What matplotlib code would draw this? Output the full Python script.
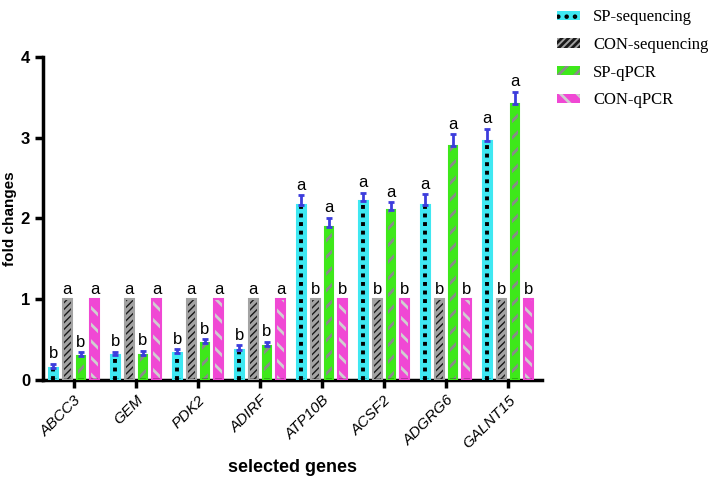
import numpy as np
import matplotlib
matplotlib.use('Agg')
import matplotlib.pyplot as plt
from matplotlib.patches import Patch

genes = ['ABCC3', 'GEM', 'PDK2', 'ADIRF', 'ATP10B', 'ACSF2', 'ADGRG6', 'GALNT15']
series = ['SP-sequencing', 'CON-sequencing', 'SP-qPCR', 'CON-qPCR']

sp_seq = [0.15, 0.31, 0.33, 0.37, 2.16, 2.21, 2.17, 2.96]
sp_seq_err = [0.05, 0.04, 0.05, 0.06, 0.13, 0.11, 0.13, 0.15]
con_seq = [1, 1, 1, 1, 1, 1, 1, 1]
sp_qpcr = [0.29, 0.31, 0.46, 0.42, 1.89, 2.10, 2.90, 3.42]
sp_qpcr_err = [0.05, 0.05, 0.04, 0.05, 0.12, 0.10, 0.14, 0.15]
con_qpcr = [1, 1, 1, 1, 1, 1, 1, 1]

sp_letters = ['b', 'b', 'b', 'b', 'a', 'a', 'a', 'a']
con_letters = ['a', 'a', 'a', 'a', 'b', 'b', 'b', 'b']

plt.rcParams['font.family'] = ['Liberation Sans', 'DejaVu Sans']

fig = plt.figure(figsize=(7.2, 4.82), dpi=100)
ax = fig.add_axes([0.06, 0.212, 0.693, 0.670])

x = np.arange(len(genes))
w = 0.14
offsets = [-0.335, -0.11, 0.11, 0.33]
vals = [sp_seq, con_seq, sp_qpcr, con_qpcr]
errs = [sp_seq_err, None, sp_qpcr_err, None]
faces = ['#3FE8F2', '#A3A3A3', '#3EE81A', '#F048D4']
hatch_cols = ['black', '#1A1A1A', '#8A8A8A', '#D0D0D0']
hatches = ['', '/////', '//', '\\\\']
hatch_lw = [1.2, 1.0, 2.0, 2.0]

for i in range(4):
    plt.rcParams['hatch.linewidth'] = hatch_lw[i]
    ax.bar(x + offsets[i], vals[i], w, color=faces[i], edgecolor=hatch_cols[i],
           hatch=hatches[i], linewidth=0, zorder=2)
    ax.bar(x + offsets[i], vals[i], w, color='none', edgecolor=faces[i], linewidth=1.5, zorder=3)
    if i == 0:
        # column of small black squares inside the cyan bars
        ax.vlines(x + offsets[i], 0, np.array(vals[i]) - 0.02, colors='black',
                  linestyles=(0, (1, 1.2)), linewidth=2.8, zorder=3)
    if errs[i] is not None:
        ax.errorbar(x + offsets[i], vals[i], yerr=[np.zeros(len(genes)), errs[i]],
                    fmt='none', ecolor='#3C3CDC', elinewidth=2, capsize=2.5, capthick=2, zorder=4)

for j in range(len(genes)):
    for i in range(4):
        top = vals[i][j] + (errs[i][j] if errs[i] is not None else 0)
        lab = sp_letters[j] if i in (0, 2) else con_letters[j]
        ax.text(x[j] + offsets[i], top + 0.03, lab, ha='center', va='bottom', fontsize=12)

ax.set_xlim(-0.5, 7.55)
ax.set_ylim(0, 4)
ax.set_yticks([0, 1, 2, 3, 4])
ax.set_xticks(x)
ax.set_xticklabels(genes, rotation=45, ha='right', rotation_mode='anchor',
                   fontstyle='italic', fontsize=11)
for t in ax.get_yticklabels():
    t.set_fontweight('bold')
    t.set_fontsize(12)
ax.spines['top'].set_visible(False)
ax.spines['right'].set_visible(False)
ax.spines['left'].set_linewidth(2.5)
ax.spines['bottom'].set_linewidth(2.5)
ax.tick_params(axis='both', width=2.5, length=6, direction='out')
ax.set_ylabel('fold changes', fontweight='bold', fontsize=11, labelpad=3)
ax.set_xlabel('selected genes', fontweight='bold', fontsize=13, labelpad=6)

plt.rcParams['hatch.linewidth'] = 1.5
leg_hatches = ['..', '/////', '//', '\\\\']
handles = []
for i in range(4):
    plt.rcParams['hatch.linewidth'] = [2.0, 1.0, 2.0, 2.0][i]
    handles.append(Patch(facecolor=faces[i], edgecolor=hatch_cols[i], hatch=leg_hatches[i], linewidth=0))

fig.legend(handles, series, loc='upper left', bbox_to_anchor=(0.757, 1.005), frameon=False,
           prop={'family': 'Liberation Serif', 'size': 12}, handlelength=1.4, handleheight=0.5,
           labelspacing=0.7, handletextpad=0.8, borderpad=0.2)

fig.savefig('out.png', dpi=100)
